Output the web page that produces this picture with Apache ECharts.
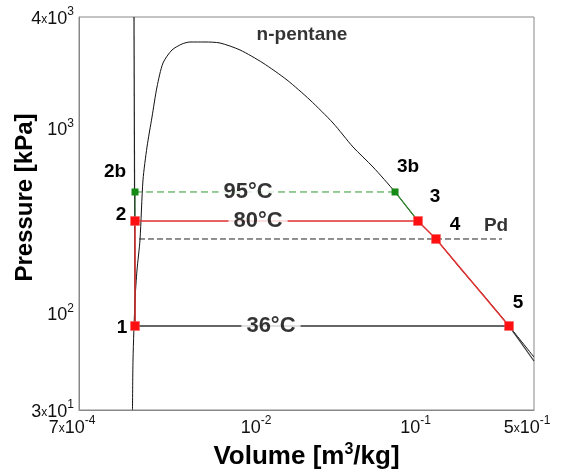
<!DOCTYPE html>
<html><head><meta charset="utf-8">
<script src="https://cdn.jsdelivr.net/npm/echarts@6/dist/echarts.min.js"></script>
<style>html,body{margin:0;padding:0;background:#fff}#c{width:567px;height:474px}</style>
</head><body><div id="c"></div>
<script>
// ---- data (v in m3/kg, P in kPa) ----
const xTickValues = [7e-4, 1e-2, 1e-1, 5e-1];
const xTickLabels = [['7', '-4'], ['', '-2'], ['', '-1'], ['5', '-1']];
const yTickValues = [30, 100, 1000, 4000];
const yTickLabels = [['3', '1'], ['', '2'], ['', '3'], ['4', '3']];

const domeV = [1.516e-3, 1.527e-3, 1.572e-3, 1.618e-3, 1.689e-3, 1.764e-3, 1.869e-3, 2.009e-3, 2.159e-3, 2.355e-3, 2.682e-3, 3.098e-3, 3.478e-3, 4.319e-3, 5.364e-3, 7.159e-3, 9.98e-3, 0.01412, 0.01968, 0.02743, 0.03663, 0.04889, 0.0672, 0.0936, 0.1214, 0.1717, 0.2464, 0.3485, 0.5];
const domeP = [30, 55.9, 118, 171.4, 249.1, 525.7, 792.9, 1151.7, 1673, 2256, 2653, 2858, 2930, 2930, 2894, 2653, 2256, 1826, 1423, 1069, 792.9, 618, 452.9, 315.6, 252.2, 175.8, 122.5, 85.4, 58.0];

const liquidIsoV = [1.549e-3, 1.572e-3];
const liquidIsoP = [4000, 85.4];
const iso36V = [1.572e-3, 0.3485];
const iso36P = [85.4, 85.4];
const vaporIsoV = [0.3485, 0.5];
const vaporIsoP = [85.4, 55.2];
const pdV = [1.665e-3, 0.315];
const pdP = [252.2, 252.2];

const cycleNames = ['1', '2', '3', '4', '5'];
const cycleV = [1.572e-3, 1.572e-3, 0.0936, 0.1214, 0.3485];
const cycleP = [85.4, 315.6, 315.6, 252.2, 85.4];

const altNames = ['2b', '3b'];
const altV = [1.572e-3, 0.0672];
const altP = [452.9, 452.9];
const link2to2bV = [1.572e-3, 1.572e-3];
const link2to2bP = [315.6, 452.9];
const link3bto3V = [0.0672, 0.0936];
const link3bto3P = [452.9, 315.6];

const tempLabels = ['36°C', '80°C', '95°C'];
const tempLabelV = [0.0112, 0.00929, 0.00804];
const tempLabelP = [85.4, 315.6, 452.9];

const fluidName = 'n-pentane';
const fluidV = 0.01753, fluidP = 3197;
const pdName = 'Pd';
const pdLabelV = 0.2889, pdLabelP = 296.5;

// ---- styles (label offsets in px) ----
const pointLabelOffsets = {'1': [-13, 2], '2': [-14, -6], '3': [17, -24], '4': [19, -14], '5': [9, -23], '2b': [-20, -20], '3b': [13, -25]};
const FONT = 'Liberation Sans, Arial, sans-serif';
const INK = '#000';

function pairs(xs, ys) { return xs.map((x, i) => [x, ys[i]]); }
function idxOf(arr, v) {
  return arr.findIndex(t => Math.abs(Math.log10(t) - Math.log10(v)) < 1e-6);
}
function sci(lbl) {
  return (lbl[0] ? '{b|' + lbl[0] + '}{x|x}' : '') + '{b|10}{s|' + lbl[1] + '}';
}
const richFor = size => ({
  b: {fontSize: size, fontFamily: FONT, color: '#111', lineHeight: size + 4, verticalAlign: 'bottom'},
  x: {fontSize: size - 6, fontFamily: FONT, color: '#111', lineHeight: size + 4, verticalAlign: 'bottom', padding: [0, 0, 2, 0]},
  s: {fontSize: size - 6, fontFamily: FONT, color: '#111', lineHeight: size - 4, verticalAlign: 'top'}
});
const boldLabel = size => ({show: true, position: 'inside', formatter: p => p.name, fontSize: size, fontWeight: 'bold',
  fontFamily: FONT, color: INK, textBorderWidth: 0});

const thin = (color, width, type) => ({color: color, width: width, type: type || 'solid'});

const chart = echarts.init(document.getElementById('c'), null, {renderer: 'canvas'});
chart.setOption({
  animation: false,
  backgroundColor: '#fff',
  grid: {left: 79, right: 33, top: 17, bottom: 64, show: true, borderColor: '#888', borderWidth: 1,
    containLabel: false, outerBoundsMode: 'none'},
  xAxis: {
    type: 'log', logBase: 10, min: 7e-4, max: 0.5,
    name: '{t|Volume [m}{ts|3}{t|/kg]}', nameLocation: 'middle', nameGap: 32, nameMoveOverlap: false,
    nameTextStyle: {rich: {
      t: {fontSize: 26, fontWeight: 'bold', fontFamily: FONT, color: INK, lineHeight: 28, verticalAlign: 'bottom'},
      ts: {fontSize: 16, fontWeight: 'bold', fontFamily: FONT, color: INK, lineHeight: 16, verticalAlign: 'top'}
    }},
    axisLine: {show: true, lineStyle: {color: '#888'}},
    axisTick: {show: false},
    splitLine: {show: false},
    axisLabel: {customValues: xTickValues, margin: 5, fontSize: 18, fontFamily: FONT, color: '#111',
      rich: richFor(18), padding: [0, 14, 0, 0],
      formatter: v => { const i = idxOf(xTickValues, v); return i < 0 ? '' : sci(xTickLabels[i]); }}
  },
  yAxis: {
    type: 'log', logBase: 10, min: 30, max: 4000,
    name: 'Pressure [kPa]', nameLocation: 'middle', nameGap: 42, nameRotate: 90, nameMoveOverlap: false,
    nameTextStyle: {fontSize: 24, fontWeight: 'bold', fontFamily: FONT, color: INK, padding: [0, 0, 0, 32]},
    axisLine: {show: true, lineStyle: {color: '#888'}},
    axisTick: {show: false},
    splitLine: {show: false},
    axisLabel: {customValues: yTickValues, margin: 5, fontSize: 18, fontFamily: FONT, color: '#111',
      rich: richFor(18),
      formatter: v => { const i = idxOf(yTickValues, v); return i < 0 ? '' : sci(yTickLabels[i]); }}
  },
  series: [
    {type: 'line', data: pairs(domeV, domeP), symbol: 'none', smooth: 0.25, lineStyle: thin('#111', 1), z: 2},
    {type: 'line', data: pairs(liquidIsoV, liquidIsoP), symbol: 'none', lineStyle: thin('#222', 1.2), z: 2},
    {type: 'line', data: pairs(vaporIsoV, vaporIsoP), symbol: 'none', lineStyle: thin('#333', 1.2), z: 2},
    {type: 'line', data: pairs(iso36V, iso36P), symbol: 'none', lineStyle: thin('#666', 2), z: 3},
    {type: 'line', data: pairs(pdV, pdP), symbol: 'none', lineStyle: {color: '#222', width: 1, type: [6, 3]}, z: 3},
    {type: 'line', data: pairs(link2to2bV, link2to2bP), symbol: 'none', lineStyle: thin('#3a6a3a', 1.2), z: 4},
    {type: 'line', data: pairs(altV, altP), symbol: 'none', lineStyle: {color: '#2f9a2f', width: 1, type: [7, 4]}, z: 4},
    {type: 'line', data: pairs(link3bto3V, link3bto3P), symbol: 'none', lineStyle: thin('#2f8a2f', 1.2), z: 4},
    {type: 'line', data: pairs(cycleV, cycleP), symbol: 'none', lineStyle: thin('#e03030', 1.5), z: 5},
    {type: 'scatter', data: pairs(altV, altP).map((d, i) => ({value: d, name: altNames[i],
        label: {offset: pointLabelOffsets[altNames[i]]}})),
      symbol: 'rect', symbolSize: 7, itemStyle: {color: '#158a15', opacity: 1}, z: 6,
      label: boldLabel(19)},
    {type: 'scatter', data: pairs(cycleV, cycleP).map((d, i) => ({value: d, name: cycleNames[i],
        label: {offset: pointLabelOffsets[cycleNames[i]]}})),
      symbol: 'rect', symbolSize: 9, itemStyle: {color: '#ff1010', borderColor: '#f06060', borderWidth: 0.5, opacity: 1}, z: 7,
      label: boldLabel(19)},
    {type: 'scatter', data: pairs(tempLabelV, tempLabelP).map((d, i) => ({value: d, name: tempLabels[i]})),
      symbolSize: 0, z: 8,
      label: Object.assign(boldLabel(22), {backgroundColor: '#fff', padding: [0, 5]})},
    {type: 'scatter', data: [{value: [fluidV, fluidP], name: fluidName}, {value: [pdLabelV, pdLabelP], name: pdName}],
      symbolSize: 0, z: 8,
      label: boldLabel(19)}
  ]
});
</script></body></html>
